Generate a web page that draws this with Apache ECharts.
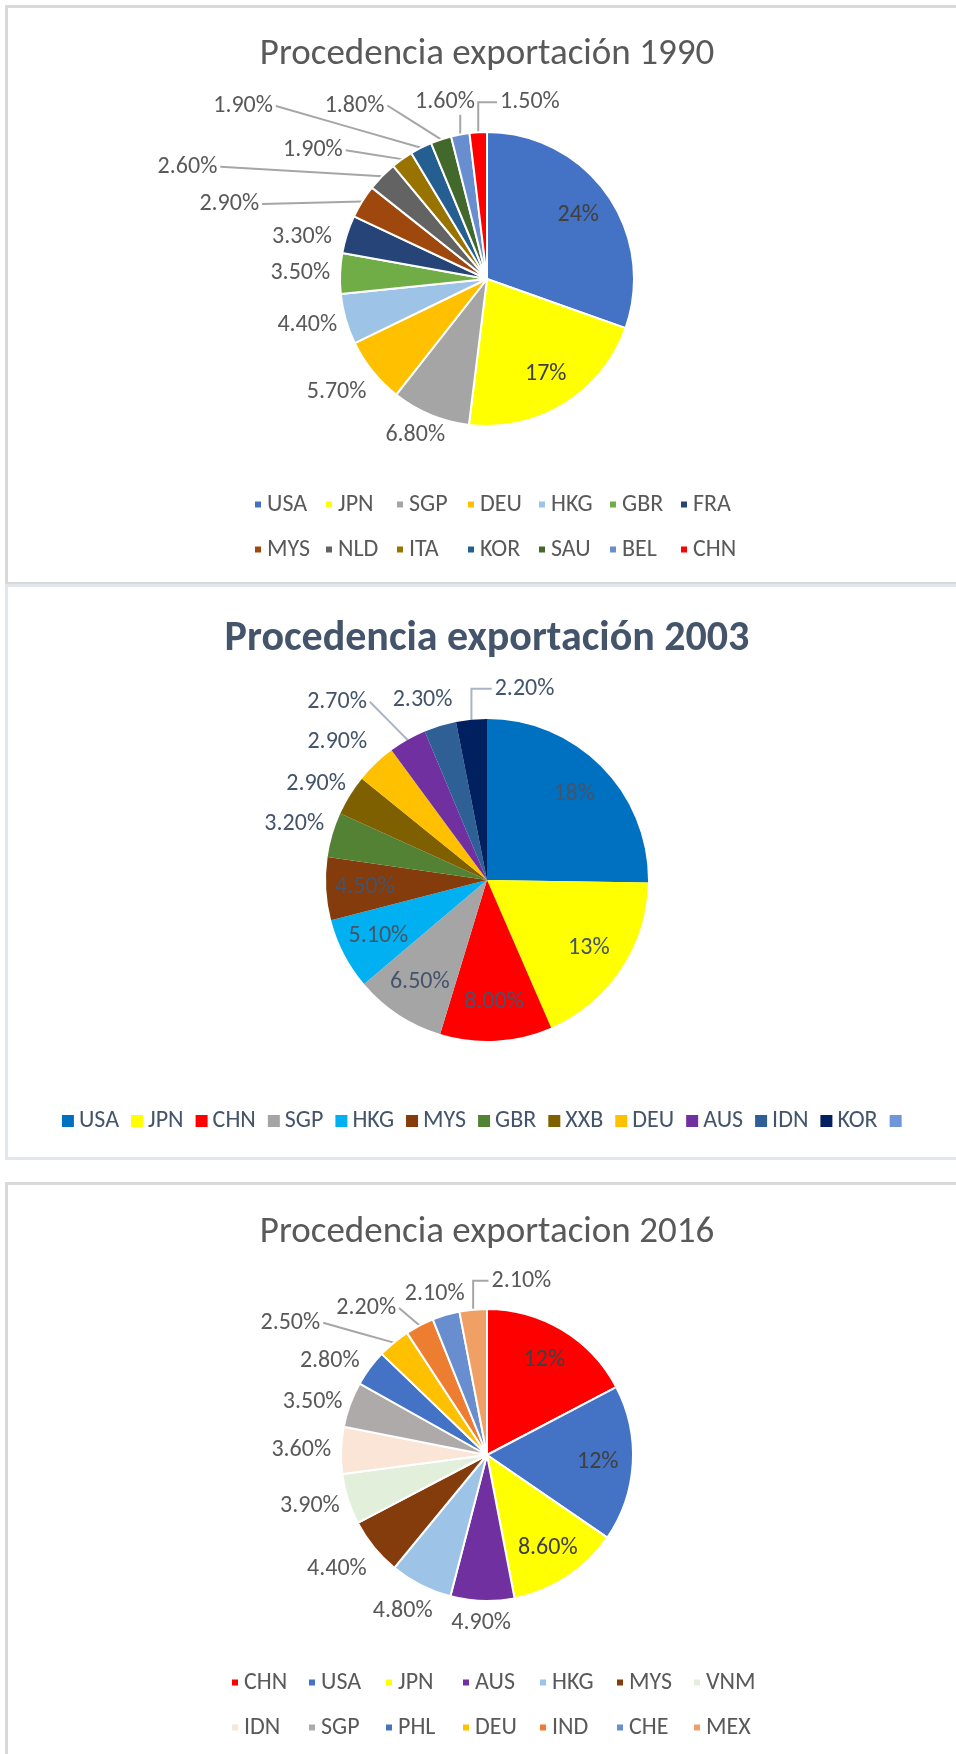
<!DOCTYPE html>
<html><head><meta charset="utf-8">
<script src="https://cdn.jsdelivr.net/npm/echarts@6/dist/echarts.min.js"></script>
<style>
html,body{margin:0;padding:0;background:#fff;width:956px;height:1754px;overflow:hidden;position:relative}
.panel{position:absolute;left:5px;width:1000px;box-sizing:border-box;border:3px solid #d9d9d9;background:#fff}
.chart{position:absolute;left:0;width:974px}
</style></head><body>
<div class="panel" style="top:5px;height:580px"></div>
<div class="panel" style="top:584px;height:576px;border-color:#e2e6ed"></div>
<div class="panel" style="top:1182px;height:620px"></div>
<div id="c1" class="chart" style="top:0;height:583px"></div>
<div id="c2" class="chart" style="top:583px;height:577px"></div>
<div id="c3" class="chart" style="top:1183px;height:571px"></div>
<script>
// ---- data ----
const cats1990 = ['USA','JPN','SGP','DEU','HKG','GBR','FRA','MYS','NLD','ITA','KOR','SAU','BEL','CHN'];
const vals1990 = [24, 17, 6.8, 5.7, 4.4, 3.5, 3.3, 2.9, 2.6, 1.9, 1.9, 1.8, 1.6, 1.5];
const labels1990 = ['24%','17%','6.80%','5.70%','4.40%','3.50%','3.30%','2.90%','2.60%','1.90%','1.90%','1.80%','1.60%','1.50%'];

const cats2003 = ['USA','JPN','CHN','SGP','HKG','MYS','GBR','XXB','DEU','AUS','IDN','KOR',' '];
const vals2003 = [18, 13, 8.0, 6.5, 5.1, 4.5, 3.2, 2.9, 2.9, 2.7, 2.3, 2.2, 0];
const labels2003 = ['18%','13%','8.00%','6.50%','5.10%','4.50%','3.20%','2.90%','2.90%','2.70%','2.30%','2.20%',''];

const cats2016 = ['CHN','USA','JPN','AUS','HKG','MYS','VNM','IDN','SGP','PHL','DEU','IND','CHE','MEX'];
const vals2016 = [12, 12, 8.6, 4.9, 4.8, 4.4, 3.9, 3.6, 3.5, 2.8, 2.5, 2.2, 2.1, 2.1];
const labels2016 = ['12%','12%','8.60%','4.90%','4.80%','4.40%','3.90%','3.60%','3.50%','2.80%','2.50%','2.20%','2.10%','2.10%'];

// ---- styles ----
const colors1990 = ['#4472c4','#ffff00','#a5a5a5','#ffc000','#9dc3e6','#70ad47','#264478','#9e480e','#636363','#997300','#255e91','#43682b','#698ed0','#ff0000'];
const colors2003 = ['#0070c0','#ffff00','#ff0000','#a5a5a5','#00b0f0','#843c0c','#548235','#7f6000','#ffc000','#7030a0','#2e5f95','#002060','#6f96d8'];
const colors2016 = ['#ff0000','#4472c4','#ffff00','#7030a0','#9dc3e6','#843c0c','#e2efda','#fbe5d6','#aeaaaa','#4472c4','#ffc000','#ed7d31','#698ed0','#f0a064'];

// label nudges (like manually dragged data labels) and which labels get leader lines
const nudge1990 = {3:[-5,7], 6:[-7,9], 7:[-99,14], 8:[-166,6], 9:[-66,9], 10:[-160,-22], 11:[-74,-13], 12:[-8,-11], 13:[54,-8]};
const leaders1990 = [7, 8, 9, 10, 11, 12, 13];
const nudge2003 = {6:[0,-5], 8:[-11,-6], 9:[-51,-19], 10:[-6,-5], 11:[57,-9]};
const leaders2003 = [9, 11];
const nudge2016 = {4:[0,6], 5:[-6,8], 8:[0,5], 9:[-8,6], 10:[-78,-3], 11:[-35,2], 13:[52,-7]};
const leaders2016 = [10, 11, 13];

const FONT = 'Carlito, "Liberation Sans Narrow", "Open Sans", sans-serif';
const GAP = 10;

function makePie(id, cfg) {
  const chart = echarts.init(document.getElementById(id), null, {renderer: 'canvas'});
  const cx = cfg.center[0], cy = cfg.center[1], r = cfg.radius;
  chart.setOption({
    animation: false,
    title: {
      text: cfg.title, left: 'center', top: cfg.titleTop, padding: 0,
      textStyle: {fontFamily: FONT, fontSize: cfg.titleSize, fontWeight: cfg.titleWeight, color: cfg.titleColor}
    },
    legend: Object.assign({
      icon: 'rect', orient: 'horizontal', padding: 0,
      selectedMode: false,
      data: cfg.cats
    }, cfg.legend),
    series: [{
      type: 'pie',
      center: [cx, cy], radius: [0, r],
      startAngle: 90, clockwise: true,
      avoidLabelOverlap: false,
      itemStyle: {borderColor: '#ffffff', borderWidth: cfg.borderWidth},
      label: {
        fontFamily: FONT, fontSize: cfg.labelSize, color: cfg.labelColor,
        formatter: p => cfg.labels[p.dataIndex]
      },
      labelLine: {length: 12, length2: 10, lineStyle: {color: cfg.lineColor, width: 2}},
      labelLayout: function (p) {
        const i = p.dataIndex;
        const w = p.labelRect.width, h = p.labelRect.height;
        const lcx = p.labelRect.x + w / 2, lcy = p.labelRect.y + h / 2;
        if (i < cfg.nInside) {
          const dx = lcx - cx, dy = lcy - cy;
          const d = Math.sqrt(dx * dx + dy * dy) || 1;
          const t = 0.76 * r;
          return {x: cx + dx / d * t, y: cy + dy / d * t, align: 'center', verticalAlign: 'middle'};
        }
        const pts = p.labelLinePoints;
        if (!pts) return {};
        const ax = pts[0][0], ay = pts[0][1];
        const ux = (ax - cx) / r, uy = (ay - cy) / r;
        const hw = w / 2, hh = h / 2;
        const n = cfg.nudge[i] || [0, 0];
        const lx = cx + ux * (r + GAP) + ux * hw + n[0];
        const ly = cy + uy * (r + GAP) + uy * hh + n[1];
        let line;
        if (cfg.leaders.indexOf(i) >= 0) {
          if (lx - hw > ax) {
            const ex = lx - hw - 3;
            line = [[ax, ay], [ax, ly], [ex, ly]];
          } else if (lx + hw < ax) {
            const ex = lx + hw + 3;
            line = [[ax, ay], [(ax + ex) / 2, (ay + ly) / 2], [ex, ly]];
          } else {
            const ey = ly + hh + 1;
            line = [[ax, ay], [ax, (ay + ey) / 2], [ax, ey]];
          }
        } else {
          line = [[ax, ay], [ax, ay], [ax, ay]];
        }
        return {x: lx, y: ly, align: 'center', verticalAlign: 'middle', labelLinePoints: line};
      },
      data: cfg.cats.map((n, i) => ({
        name: n, value: cfg.vals[i],
        itemStyle: {color: cfg.colors[i]},
        label: {
          show: cfg.labels[i] !== '',
          position: i < cfg.nInside ? 'inside' : 'outside',
          color: i < cfg.nInside ? cfg.insideColor : cfg.labelColor
        },
        labelLine: {
          show: i >= cfg.nInside && cfg.labels[i] !== '',
          lineStyle: {opacity: cfg.leaders.indexOf(i) >= 0 ? 1 : 0}
        }
      }))
    }]
  });
}

makePie('c1', {
  title: 'Procedencia exportación 1990', titleTop: 36, titleSize: 37, titleWeight: 300, titleColor: '#595959',
  cats: cats1990, vals: vals1990, labels: labels1990, colors: colors1990,
  nudge: nudge1990, leaders: leaders1990,
  center: [487, 279], radius: 147, nInside: 2, borderWidth: 2,
  labelSize: 24, labelColor: '#595959', insideColor: '#404040', lineColor: '#a6a6a6',
  legend: {left: 253, top: 482, width: 500, itemWidth: 8, itemHeight: 8, itemGap: 0,
    textStyle: {fontFamily: FONT, fontSize: 24, color: '#595959', width: 57, lineHeight: 45}}
});

makePie('c2', {
  title: 'Procedencia exportación 2003', titleTop: 35, titleSize: 42, titleWeight: 'bold', titleColor: '#44546a',
  cats: cats2003, vals: vals2003, labels: labels2003, colors: colors2003,
  nudge: nudge2003, leaders: leaders2003,
  center: [487, 297], radius: 161, nInside: 6, borderWidth: 0,
  labelSize: 24, labelColor: '#44546a', insideColor: '#44546a', lineColor: '#a9b4c4',
  legend: {left: 'center', top: 523, itemWidth: 12, itemHeight: 12, itemGap: 12,
    textStyle: {fontFamily: FONT, fontSize: 24, color: '#44546a', lineHeight: 30}}
});

makePie('c3', {
  title: 'Procedencia exportacion 2016', titleTop: 31, titleSize: 37, titleWeight: 300, titleColor: '#595959',
  cats: cats2016, vals: vals2016, labels: labels2016, colors: colors2016,
  nudge: nudge2016, leaders: leaders2016,
  center: [487, 272], radius: 146, nInside: 3, borderWidth: 2,
  labelSize: 24, labelColor: '#595959', insideColor: '#404040', lineColor: '#a6a6a6',
  legend: {left: 230, top: 477, width: 545, itemWidth: 8, itemHeight: 8, itemGap: 0,
    textStyle: {fontFamily: FONT, fontSize: 24, color: '#595959', width: 63, lineHeight: 45}}
});
</script>
</body></html>
